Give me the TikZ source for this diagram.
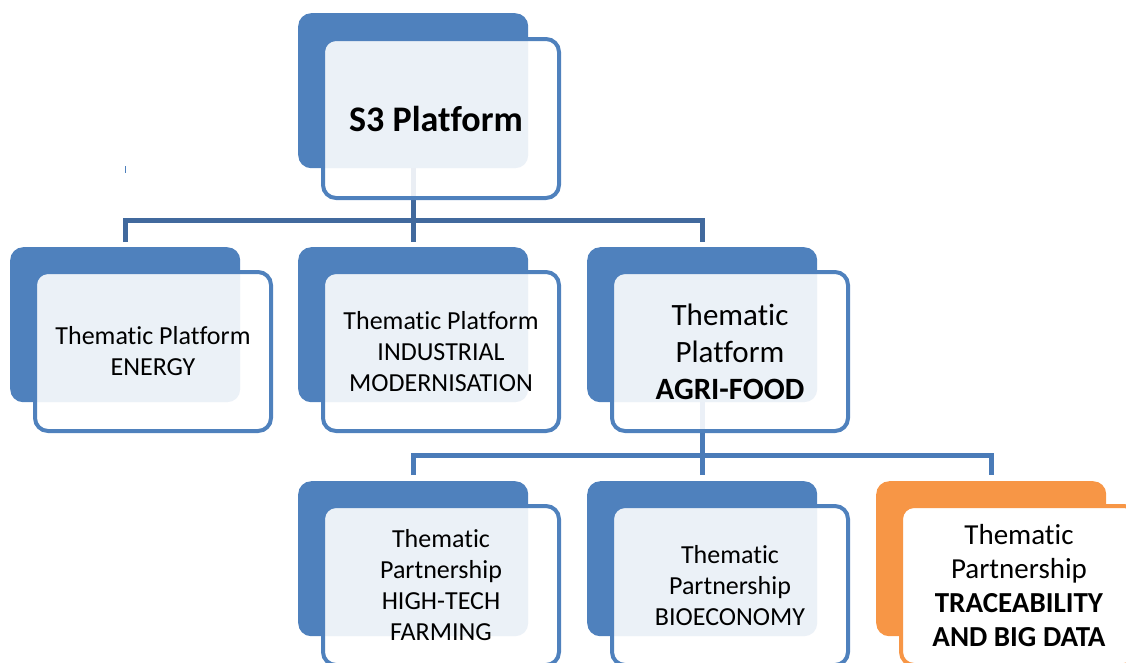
\documentclass[tikz,border=0pt]{standalone}
\usepackage{fontspec}
\setmainfont{Carlito}[Ligatures=NoCommon]
\usepackage{tikz}
\usetikzlibrary{positioning,calc}
\definecolor{accent}{HTML}{4F81BD}
\definecolor{linkdark}{HTML}{41699D}
\definecolor{linkmid}{HTML}{4A7BB8}
\definecolor{orangeacc}{HTML}{F79646}

\begin{document}
\begin{tikzpicture}[x=1pt, y=-1pt,
    back/.style={rectangle, rounded corners=13pt, minimum width=230pt, minimum height=155pt, inner sep=0pt, fill=accent, anchor=north west},
    front/.style={rectangle, rounded corners=13pt, minimum width=236pt, minimum height=159pt, inner sep=0pt, draw=accent, line width=4pt, fill=white, fill opacity=0.89, text opacity=1, align=center, font=\fontsize{26}{31}\selectfont, anchor=north west},
    link/.style={line width=5pt, draw=linkdark}
]
    \useasboundingbox (0,0) rectangle (1126,662);

    % back boxes
    \node [back] (s3b) at (298,13) {};
    \foreach \n/\x in {energyb/10, indb/298, agrib/587} {
        \node [back] (\n) at (\x,247) {};
    }
    \foreach \n/\x in {hightechb/298, bioecob/587} {
        \node [back] (\n) at (\x,481) {};
    }
    \node [back, fill=orangeacc] (traceb) at (876,481) {};

    % connectors
    \draw [link] ($(energyb.north)+(0,-5)$) |- ($(agrib.north)+(0,-27)$) -- ($(agrib.north)+(0,-5)$);
    \draw [link] (s3b.south) -- ($(indb.north)+(0,-5)$);
    \draw [link, draw=linkmid] ($(hightechb.north)+(0,-6)$) |- ($(traceb.north)+(0,-26)$) -- ($(traceb.north)+(0,-6)$);
    \draw [link, draw=linkmid] (agrib.south) -- ($(bioecob.north)+(0,-6)$);
    \draw [accent, line width=1pt] (125,166) -- (125,173);

    % front boxes
    \node [front] (s3) at ($(s3b.north west)+(23,24)$) {\fontsize{36}{43}\selectfont\bfseries S3 Platform\hspace{10pt}};
    \node [front] (energy) at ($(energyb.north west)+(23,23)$) {Thematic Platform\\ENERGY};
    \node [front] (ind) at ($(indb.north west)+(23,23)$) {Thematic Platform\\INDUSTRIAL\\MODERNISATION};
    \node [front, font=\fontsize{31}{37}\selectfont] (agri) at ($(agrib.north west)+(23,23)$) {Thematic\\Platform\\\textbf{AGRI-FOOD}};
    \node [front] (hightech) at ($(hightechb.north west)+(23,23)$) {Thematic\\Partnership\\HIGH-TECH\\FARMING};
    \node [front] (bioeco) at ($(bioecob.north west)+(23,23)$) {Thematic\\Partnership\\BIOECONOMY};
    \node [front, draw=orangeacc, fill opacity=1, font=\fontsize{29}{34}\selectfont] (trace) at ($(traceb.north west)+(23,23)$) {Thematic\\Partnership\\\textbf{TRACEABILITY}\\\textbf{AND BIG DATA}};
\end{tikzpicture}
\end{document}
